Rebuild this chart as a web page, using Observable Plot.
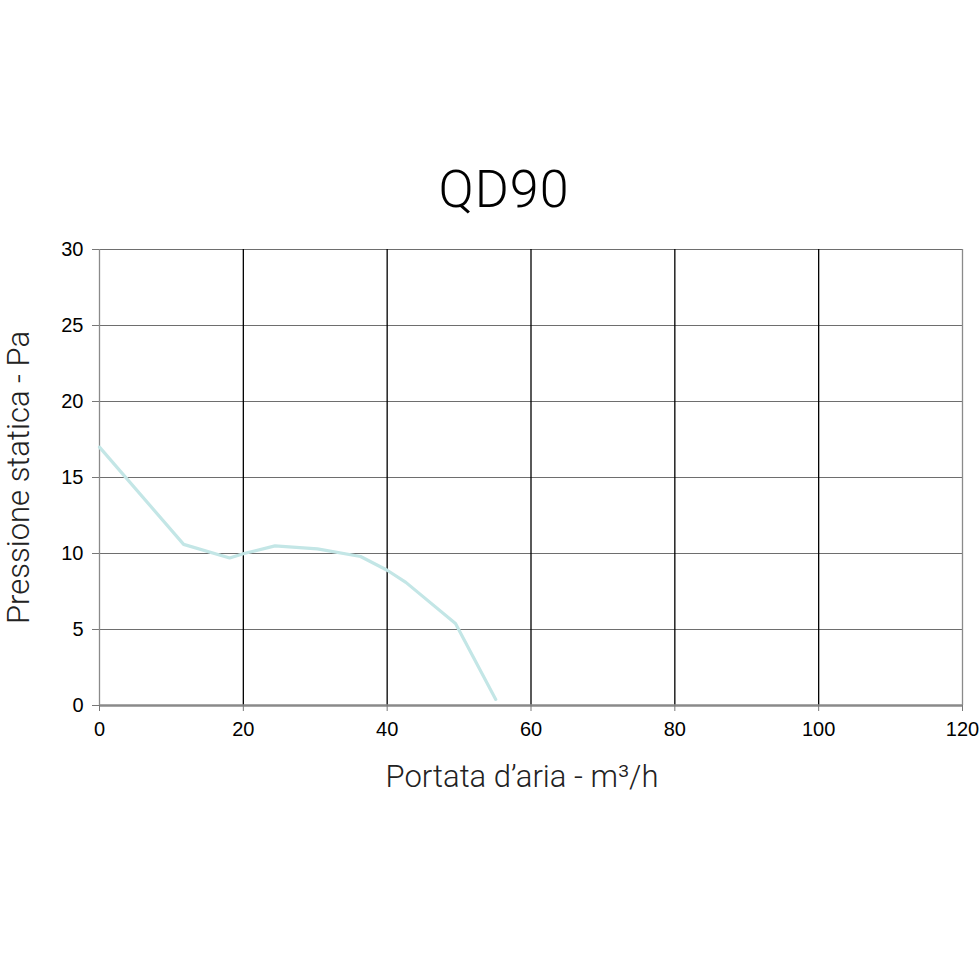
<!DOCTYPE html>
<html>
<head>
<meta charset="utf-8">
<script src="https://cdn.jsdelivr.net/npm/d3@7"></script>
<script src="https://cdn.jsdelivr.net/npm/@observablehq/plot@0.6"></script>
<style>
  html, body { margin: 0; padding: 0; background: #fff; }
  #wrap { position: relative; width: 980px; height: 980px; }
  #title { position: absolute; left: 14px; top: 164px; width: 980px; text-align: center;
    font-family: Roboto, "Liberation Sans", sans-serif; font-weight: 300; font-size: 52px; color: #000; line-height: 1; letter-spacing: 1px; }
  #chart { position: absolute; left: 0; top: 0; }
</style>
</head>
<body>
<div id="wrap">
  <div id="chart"></div>
  <div id="title">QD90</div>
</div>
<script>
const flow = [0, 11.7, 18.1, 20.1, 24.4, 30.3, 36.3, 40.0, 42.6, 49.5, 55.1];
const pressure = [17.0, 10.6, 9.7, 10.0, 10.5, 10.3, 9.8, 8.9, 8.1, 5.4, 0.4];
const xTicks = [0, 20, 40, 60, 80, 100, 120];
const yTicks = [0, 5, 10, 15, 20, 25, 30];
const xLabel = "Portata d’aria - m³/h";
const yLabel = "Pressione statica - Pa";

const data = flow.map((f, i) => ({flow: f, pressure: pressure[i]}));

const plot = Plot.plot({
  width: 980,
  height: 980,
  marginLeft: 99,
  marginRight: 18,
  marginTop: 249,
  marginBottom: 275,
  style: {fontFamily: "'Liberation Sans', Arial, sans-serif", fontSize: "20px", background: "white", overflow: "visible"},
  x: {domain: [0, 120]},
  y: {domain: [0, 30]},
  marks: [
    Plot.ruleY(yTicks.filter(d => d > 0), {stroke: "#6e6e6e", strokeWidth: 1}),
    Plot.ruleX(xTicks.filter(d => d > 0 && d < 120), {stroke: "#000", strokeWidth: 1.3}),
    Plot.ruleX([0, 120], {stroke: "#8a8a8a", strokeWidth: 1.3}),
    Plot.ruleY([0], {stroke: "#8a8a8a", strokeWidth: 2.5}),
    Plot.axisX({ticks: xTicks, tickSize: 6, tickPadding: 10, fontSize: 20, label: null, stroke: "#777", color: "#000"}),
    Plot.axisY({ticks: yTicks, tickSize: 7, tickPadding: 9, fontSize: 20, label: null, stroke: "#777", color: "#000"}),
    Plot.line(data, {x: "flow", y: "pressure", stroke: "#c3e6e6", strokeWidth: 3.2, strokeLinejoin: "miter"}),
    Plot.text([xLabel], {frameAnchor: "bottom", dx: -9, dy: 81, fontSize: 31, fontWeight: 300, fontFamily: "Roboto, sans-serif", fill: "#222"}),
    Plot.text([yLabel], {frameAnchor: "left", textAnchor: "middle", dx: -80, rotate: -90, fontSize: 31, fontWeight: 300, fontFamily: "Roboto, sans-serif", fill: "#222"})
  ]
});
document.getElementById("chart").appendChild(plot);
</script>
</body>
</html>
